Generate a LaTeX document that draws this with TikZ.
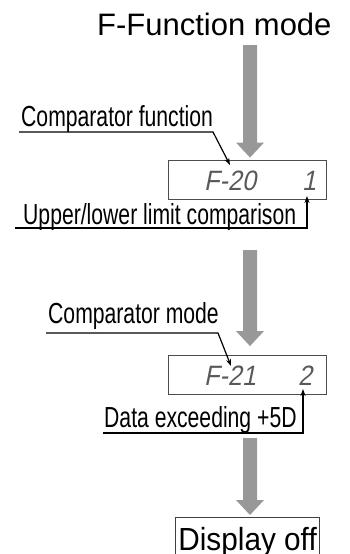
\documentclass[tikz,border=0pt]{standalone}
\usepackage{fontspec}
\setmainfont{Liberation Sans}
\newfontfamily\narrowfont[FakeStretch=0.73]{Liberation Sans}
\newfontfamily\titlefont{Liberation Sans}
\newfontfamily\offfont[FakeStretch=0.93]{Liberation Sans}
\newfontfamily\segfont[FakeSlant=0.2,FakeStretch=0.9]{Liberation Sans}
\usetikzlibrary{arrows.meta,calc}
\definecolor{arrowgray}{RGB}{152,152,152}
\newcommand\fatarrow[2]{%
  \fill[arrowgray] ($(#1)+(-7,0)$) -- ($(#2)+(-7,-15)$) -- ($(#2)+(-14,-15)$) -- (#2)
    -- ($(#2)+(14,-15)$) -- ($(#2)+(7,-15)$) -- ($(#1)+(7,0)$) -- cycle;}
\begin{document}
\begin{tikzpicture}[x=1pt,y=-1pt,
  lbl/.style={font=\narrowfont\fontsize{29}{32}\selectfont, inner sep=0pt, anchor=base west},
  lcd/.style={draw=black!70, line width=0.9pt, minimum width=158pt, minimum height=39pt, inner sep=0pt},
  seg/.style={font=\segfont\fontsize{28}{30}\selectfont, text=black!65, inner sep=0pt, anchor=base west},
  leader/.style={line width=1.2pt, -{Stealth[length=7pt,width=5pt]}}
]
\useasboundingbox (0,0) rectangle (349,554);
% title
\node[font=\titlefont\fontsize{31}{34}\selectfont, inner sep=0pt, anchor=base west] (t) at (97,35) {F-Function mode};
% displays
\node[lcd] (d1) at (247,179.5) {};
\node[seg] (s1) at (204,190) {F-20};
\node[seg] (s1b) at (302,190) {1};
\node[lcd] (d2) at (247,375) {};
\node[seg] (s2) at (204,385) {F-21};
\node[seg] (s2b) at (298,385) {2};
\node[draw=black!75, line width=0.8pt, font=\offfont\fontsize{32}{36}\selectfont, anchor=north west,
      inner xsep=3pt, inner ysep=0pt, text height=33pt, text depth=17pt] (off) at (175,517) {Display off};
% labels
\node[lbl] (l1) at (21,126) {Comparator function};
\node[lbl] (l2) at (23,224) {Upper/lower limit comparison};
\node[lbl] (l3) at (48,323) {Comparator mode};
\node[lbl] (l4) at (104,427) {Data exceeding +5D};
% leaders
\coordinate (u1a) at (19,132); \coordinate (u1b) at (213,132); \coordinate (p1) at (230,165);
\draw[leader] (u1a) -- (u1b) -- (p1);
\coordinate (u2a) at (15,228); \coordinate (u2b) at (307,228); \coordinate (p2) at (307,196);
\draw[leader] (u2a) -- (u2b) -- (p2);
\coordinate (u3a) at (46,333); \coordinate (u3b) at (218,333); \coordinate (p3) at (231,366);
\draw[leader] (u3a) -- (u3b) -- (p3);
\coordinate (u4a) at (103,433); \coordinate (u4b) at (303,433); \coordinate (p4) at (303,389);
\draw[leader] (u4a) -- (u4b) -- (p4);
% fat arrows
\coordinate (ax) at (250,0);
\coordinate (a1s) at ($(ax |- t.base)+(0,10)$);
\coordinate (a1e) at ($(ax |- d1.north)+(0,-2)$);
\fatarrow{a1s}{a1e}
\coordinate (a2s) at ($(ax |- u2a)+(0,22)$);
\coordinate (a2e) at ($(ax |- d2.north)+(0,-9)$);
\fatarrow{a2s}{a2e}
\coordinate (a3s) at ($(ax |- u4a)+(0,5)$);
\coordinate (a3e) at ($(ax |- off.north)+(0,-2)$);
\fatarrow{a3s}{a3e}
\end{tikzpicture}
\end{document}
